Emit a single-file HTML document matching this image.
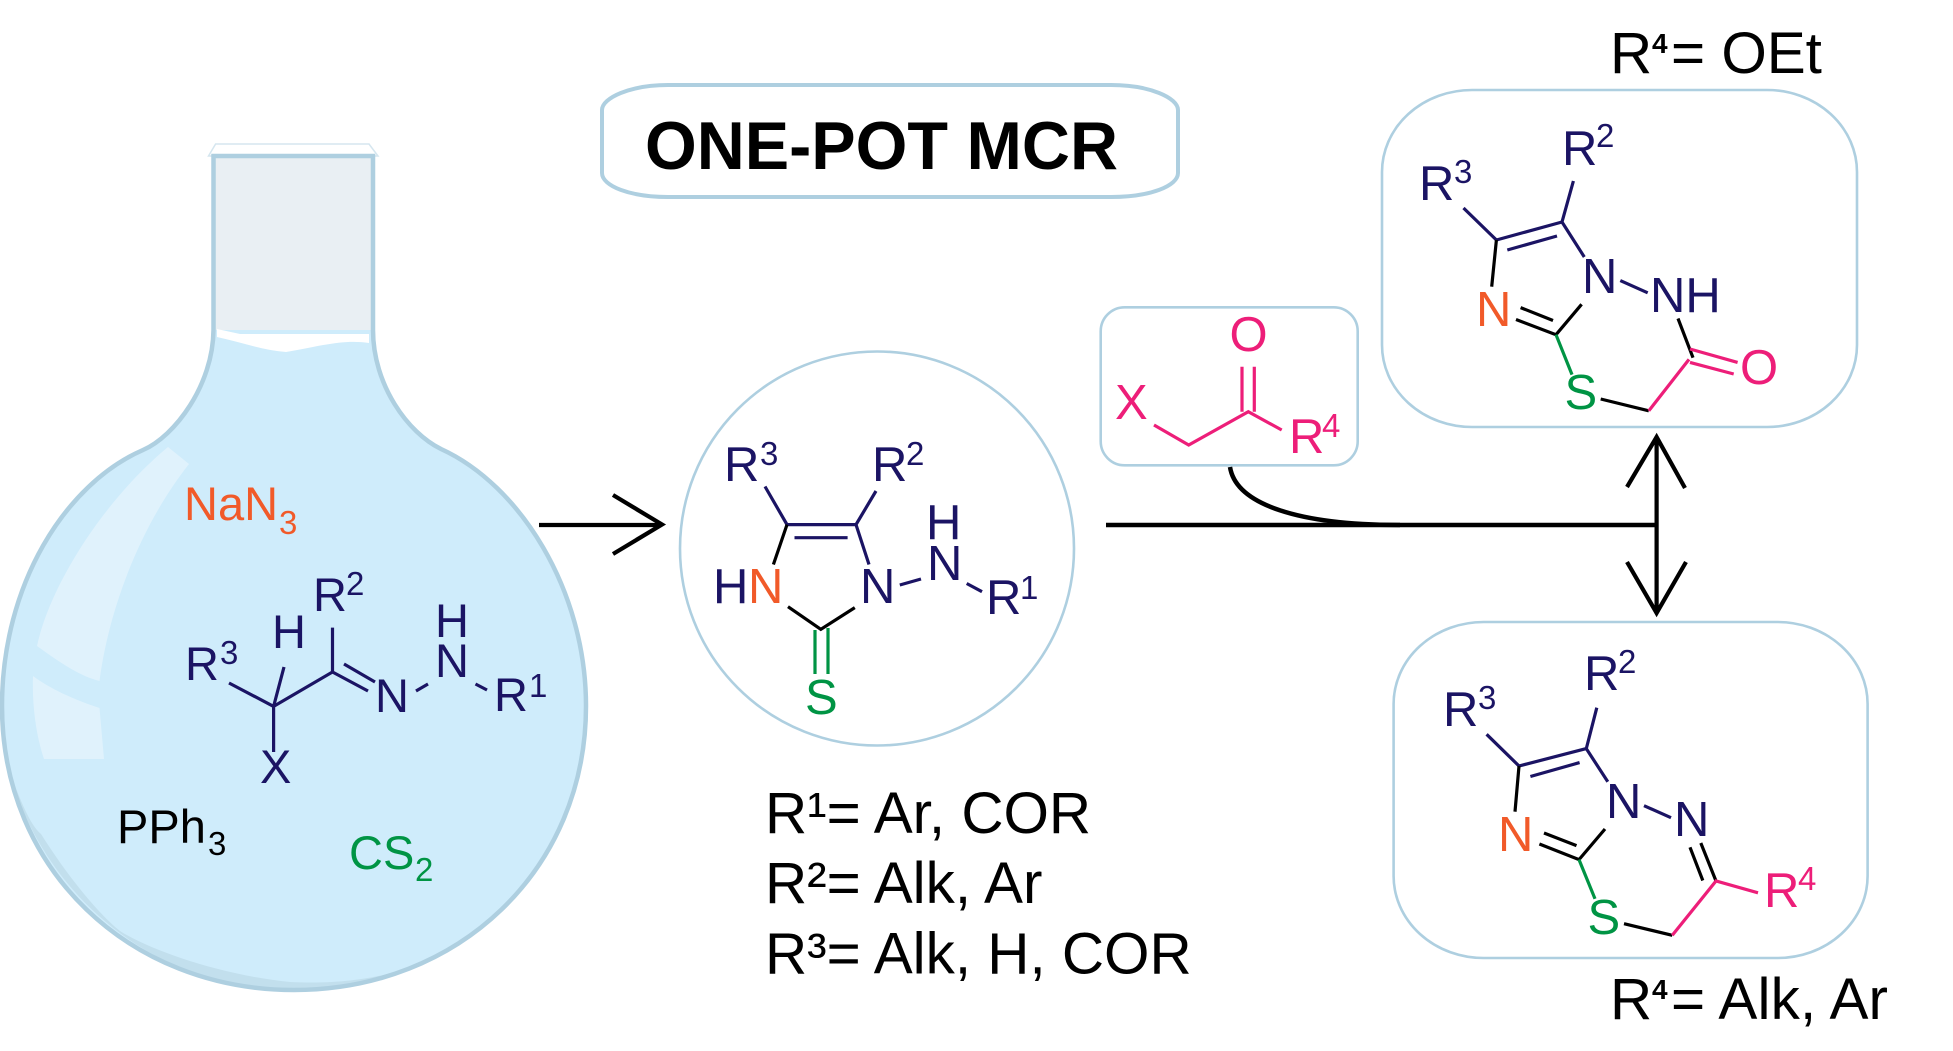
<!DOCTYPE html>
<html><head><meta charset="utf-8"><title>One-pot MCR</title>
<style>
html,body{margin:0;padding:0;background:#fff}
svg{display:block}
text{font-family:"Liberation Sans",sans-serif;font-size:49px}
.n{fill:#1b1464}.o{fill:#f15a29}.g{fill:#009444}.p{fill:#ed1e79}.k{fill:#000}
.s{font-size:33px}
.f{font-size:47px}
.b{font-size:58.4px;fill:#000}
.ln,.lk,.lg,.lp{fill:none;stroke-width:3.2}
.ln{stroke:#1b1464}.lk{stroke:#000}.lg{stroke:#009444}.lp{stroke:#ed1e79}
.box{fill:none;stroke:#aecfe0;stroke-width:2.6}
.ar{fill:none;stroke:#000;stroke-width:4.2}
</style></head><body>
<svg xmlns="http://www.w3.org/2000/svg" width="1953" height="1051" viewBox="0 0 1953 1051">
<rect width="1953" height="1051" fill="#fff"/>

<!-- Flask -->
<path d="M208.5 156 L215.6 144 H369 L378 156 Z" fill="#fff" stroke="#d5e6ef" stroke-width="1.5"/>
<path d="M214 156 H373 V345 H214 Z" fill="#e9eff3"/>
<path d="M213.500 330 C213 385 175 436 143 450 C65 484 2 585 2 706 C2 870 130 990 294 990 C458 990 586 870 586 706 C586 590 520 485 441 449 C408 433 373 385 373 330 Z" fill="#cfecfb"/>
<path d="M217 329 L240 334 H369 V343 C344 339 320 346 286 352 C262 350 240 342 217 337 Z" fill="#fff"/>
<path d="M8 767 C20 800 30 825 41 834 C70 880 100 915 120 931 C150 950 220 975 290 982 C350 985 385 975 415 967 C450 950 480 930 497 912 C530 880 555 840 568 815 C520 920 420 990 294 990 C150 990 40 890 8 767 Z" fill="#c2dfed"/>
<path d="M37 646 C50 585 104 500 168 447 L189 464 C137 530 108 615 99.5 681 C80 676 62 664 37 646 Z" fill="#e0f2fc"/>
<path d="M33 676 C45 685 66 697 99.5 708 L104 759 H44 C36 735 32 705 33 676 Z" fill="#e0f2fc"/>
<path d="M213.500 156 V330 C213 385 175 436 143 450 C65 484 2 585 2 706 C2 870 130 990 294 990 C458 990 586 870 586 706 C586 590 520 485 441 449 C408 433 373 385 373 330 V156 H213.500 Z" fill="none" stroke="#aecfe0" stroke-width="4.500"/>

<!-- Flask contents -->
<text class="f o" x="184" y="520">NaN</text><text class="s o" x="279" y="534">3</text>
<text class="f n" x="185" y="680">R</text><text class="s n" x="220" y="664">3</text>
<text class="f n" x="272" y="648">H</text>
<text class="f n" x="313" y="611">R</text><text class="s n" x="346" y="595">2</text>
<text class="f n" x="375" y="712">N</text>
<text class="f n" x="435" y="637">H</text>
<text class="f n" x="435" y="677">N</text>
<text class="f n" x="494" y="711">R</text><text class="s n" x="529" y="697">1</text>
<text class="f n" x="260" y="783">X</text>
<text class="f k" x="117" y="843">PPh</text><text class="s k" x="208" y="855">3</text>
<text class="f g" x="349" y="869">CS</text><text class="s g" x="415" y="881">2</text>
<g class="ln">
<path d="M229 683 L273.600 706.400 M284 667 L273.600 706.400 L273.600 752 M273.600 706.400 L332.500 672 L332.500 627.600 M332.500 672 L368 691 M344 664 L375 682 M416 691 L428 684 M475.500 684 L487 690"/>
</g>

<!-- Arrow 1 -->
<path class="ar" d="M539 525 H660 M613 495 L662 524.500 L613 554"/>

<!-- Circle -->
<ellipse class="box" cx="877" cy="548.500" rx="197" ry="197"/>
<text class="n" x="724" y="481">R</text><text class="s n" x="760" y="465">3</text>
<text class="n" x="872" y="481">R</text><text class="s n" x="906" y="465">2</text>
<text class="n" x="713" y="603">H</text><text class="o" x="748" y="603">N</text>
<text class="n" x="860" y="603">N</text>
<text class="n" x="926" y="539">H</text>
<text class="n" x="927" y="580">N</text>
<text class="n" x="986" y="614">R</text><text class="s n" x="1020" y="599">1</text>
<text class="g" x="805" y="714">S</text>
<path class="ln" d="M765 486.500 L787 524.600 H856 L876 491 M794.500 537.700 H847.600 M856 524.600 L869 564.500 M899.800 585 L921 579 M966.700 583.500 L982 591.700"/>
<path class="lk" d="M787 524.600 L773.400 564.500 M788 606.700 L820.800 629.300 L854.800 607.600"/>
<path class="lg" d="M815 630 V674 M828 628 V674"/>

<!-- Definitions -->
<text class="b" x="765" y="833">R¹= Ar, COR</text>
<text class="b" x="765" y="903">R²= Alk, Ar</text>
<text class="b" x="765" y="973.500">R³= Alk, H, COR</text>

<!-- One-pot -->
<path d="M668 85 H1111 C1150 85 1178 98 1178 110 V173 C1178 186 1150 197 1111 197 H668 C630 197 602 186 602 173 V110 C602 98 630 85 668 85 Z" fill="none" stroke="#aecfe0" stroke-width="4"/>
<text x="645" y="169" style="font-size:68px;font-weight:700" textLength="473" lengthAdjust="spacingAndGlyphs">ONE-POT MCR</text>

<!-- Reagent box -->
<rect class="box" x="1100.700" y="307.300" width="257" height="158" rx="24" ry="24"/>
<text class="p" x="1229.500" y="351">O</text>
<text class="p" x="1115" y="419">X</text>
<text class="p" x="1289" y="453">R</text><text class="s p" x="1322" y="437">4</text>
<path class="lp" d="M1154 425 L1188.700 445 L1248.300 411.700 L1281.700 430 M1242 366.700 V411.700 M1254.300 366.700 V411.700"/>

<!-- Main connector -->
<path class="ar" d="M1106 525 H1657" style="stroke-width:4.500"/>
<path class="ar" d="M1230 467 C1236 505 1300 525 1400 525" style="stroke-width:4.500"/>
<path class="ar" d="M1656.600 437 V613 M1627 487 L1656.600 437 L1685 488 M1627 562 L1656.600 613 L1686 562"/>

<!-- Top product -->
<text class="b" x="1610" y="73">R</text><text x="1652" y="53" style="font-size:28px;font-weight:700">4</text><text class="b" x="1671" y="73">= OEt</text>
<rect class="box" x="1382" y="90" width="475" height="337" rx="90" ry="82"/>
<text class="n" x="1419" y="200">R</text><text class="s n" x="1454" y="183">3</text>
<text class="n" x="1562" y="165">R</text><text class="s n" x="1596" y="147">2</text>
<text class="n" x="1582" y="293">N</text>
<text class="n" x="1650" y="312">NH</text>
<text class="o" x="1476" y="326">N</text>
<text class="g" x="1564.500" y="409">S</text>
<text class="p" x="1740" y="384">O</text>
<path class="ln" d="M1463.500 208 L1496.400 240 L1562 222 L1573.400 181 M1507.300 250 L1557 236 M1562 222 L1584.300 257 M1620.300 280.600 L1647.700 292.800"/>
<path class="lk" d="M1496.400 240 L1491.700 286.700 M1581.600 304.300 L1556 334.700 L1516 319.500 M1553 320.500 L1520.600 307.600 M1678 318.500 L1693 357.700 M1600.700 399 L1648.800 410.800"/>
<path class="lg" d="M1556 334.700 L1572 374.600"/>
<path class="lp" d="M1648.800 410.800 L1689 359.400 M1690 349 L1737.600 362.400 M1690 362.400 L1733.700 374"/>

<!-- Bottom product -->
<rect class="box" x="1393.600" y="622" width="474" height="336" rx="90" ry="82"/>
<text class="n" x="1443" y="726">R</text><text class="s n" x="1478" y="709">3</text>
<text class="n" x="1584" y="690">R</text><text class="s n" x="1618" y="673">2</text>
<text class="n" x="1606" y="818">N</text>
<text class="n" x="1674" y="836">N</text>
<text class="o" x="1498" y="851">N</text>
<text class="g" x="1587.500" y="934">S</text>
<text class="p" x="1764" y="907">R</text><text class="s p" x="1798" y="890">4</text>
<text class="b" x="1610" y="1019">R</text><text x="1652" y="999" style="font-size:28px;font-weight:700">4</text><text class="b" x="1671" y="1019" textLength="217" lengthAdjust="spacing">= Alk, Ar</text>
<path class="ln" d="M1486.600 734.300 L1519 766 L1586.300 748.600 L1596.800 707.700 M1530.400 776.500 L1579.600 762.600 M1586.300 748.600 L1607.800 781.800 M1644 805.700 L1671 817.700"/>
<path class="lk" d="M1519 766 L1515 811.700 M1605 829 L1579 859.600 L1539.400 844 M1576.500 845.600 L1544 833 M1700.800 843 L1716 881 M1690 847.300 L1702.800 880.500 M1624 923.700 L1672.300 935.300"/>
<path class="lg" d="M1579 859.600 L1595 898.800"/>
<path class="lp" d="M1672.300 935.300 L1716 881 L1758 892.800"/>
</svg>
</body></html>
